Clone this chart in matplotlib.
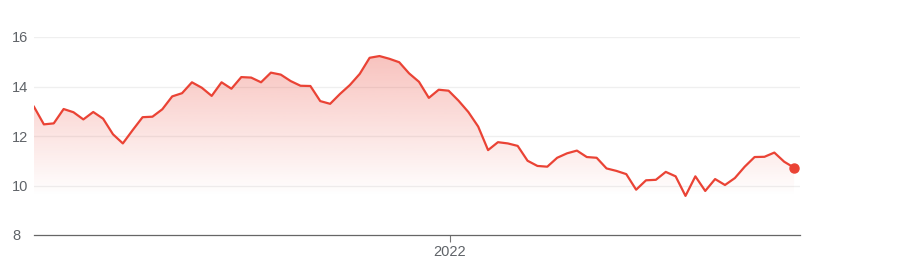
import numpy as np
import pandas as pd
import matplotlib
matplotlib.use("Agg")
import matplotlib.pyplot as plt
import matplotlib.dates as mdates
from matplotlib.colors import LinearSegmentedColormap

# weekly values
values = [
    13.18, 12.47, 12.51, 13.09, 12.96, 12.67, 12.97, 12.70, 12.07, 11.70,
    12.24, 12.76, 12.78, 13.08, 13.60, 13.73, 14.17, 13.95, 13.62, 14.17,
    13.91, 14.38, 14.36, 14.17, 14.56, 14.48, 14.22, 14.03, 14.02, 13.41,
    13.30, 13.70, 14.06, 14.51, 15.16, 15.23, 15.12, 14.98, 14.53, 14.19,
    13.54, 13.87, 13.83, 13.43, 12.97, 12.38, 11.43, 11.75, 11.70, 11.60,
    11.00, 10.79, 10.76, 11.12, 11.30, 11.41, 11.15, 11.12, 10.69, 10.59,
    10.46, 9.83, 10.21, 10.23, 10.55, 10.37, 9.58, 10.37, 9.78, 10.26,
    10.02, 10.30, 10.76, 11.15, 11.16, 11.33, 10.96, 10.72,
]
dates = pd.date_range("2021-03-12", periods=len(values), freq="7D")
y_ticks = [8, 10, 12, 14, 16]

RED = "#ea4335"
GRAY_TXT = "#5f6368"

plt.rcParams['font.family'] = ['Liberation Sans', 'DejaVu Sans']

fig = plt.figure(figsize=(9.04, 2.68), dpi=100)
ax = fig.add_axes([34 / 904, 33 / 268, 766 / 904, (235 - 37) / 268])

x = mdates.date2num(dates)
y = np.array(values)

# gradient fill under the line
base = y.min()
poly = ax.fill_between(x, y, base, color="none", lw=0)
cmap = LinearSegmentedColormap.from_list(
    "g", [(234 / 255, 67 / 255, 53 / 255, 0.0), (234 / 255, 67 / 255, 53 / 255, 0.32)])
grad = np.linspace(0, 1, 256).reshape(-1, 1)
img = ax.imshow(grad, cmap=cmap, aspect="auto", origin="lower",
                extent=[x[0], x[-1], base, y.max()], zorder=1)
img.set_clip_path(poly.get_paths()[0], transform=ax.transData)
ax.set_xlim(x[0], x[-1] + 0.6 * 7)
ax.set_ylim(8, 16)

ax.plot(x, y, color=RED, lw=1.6, zorder=3)
ax.plot(x[-1], y[-1], "o", color=RED, ms=6.5, zorder=4)

for t in y_ticks[1:]:
    ax.axhline(t, color="#efefef", lw=0.9, zorder=0)

ax.set_yticks(y_ticks)
ax.set_yticklabels([str(t) for t in y_ticks])
ax.tick_params(axis="y", length=0, pad=15.8, labelsize=10.5, labelcolor=GRAY_TXT)
for lab in ax.get_yticklabels():
    lab.set_horizontalalignment("left")

ax.set_xticks([mdates.date2num(pd.Timestamp("2022-01-01"))])
ax.set_xticklabels(["2022"])
ax.tick_params(axis="x", length=5, width=0.8, color="#777777", pad=2,
               labelsize=10.5, labelcolor=GRAY_TXT)

for s in ["top", "right", "left"]:
    ax.spines[s].set_visible(False)
ax.spines["bottom"].set_color("#666666")
ax.spines["bottom"].set_linewidth(0.9)

fig.savefig("out.png", dpi=100)
